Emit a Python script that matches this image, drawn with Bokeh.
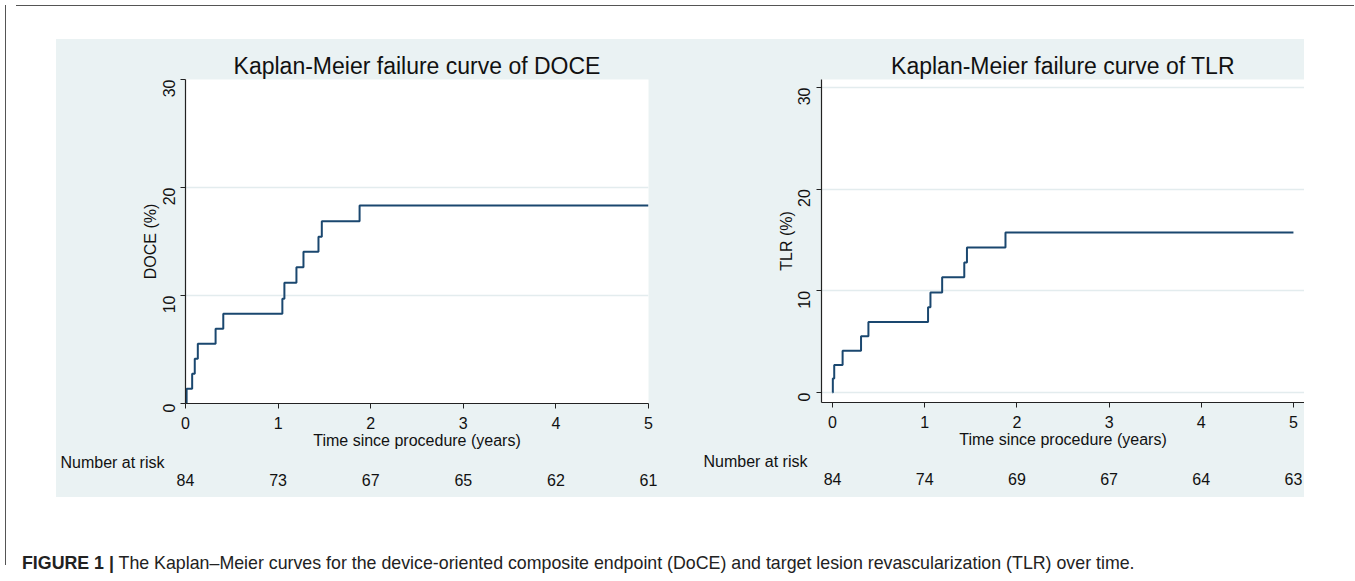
import math
from bokeh.plotting import figure
from bokeh.models import Div, Spacer, Range1d, FixedTicker
from bokeh.layouts import row, column
from bokeh.embed import file_html
from bokeh.resources import INLINE

# ---------------- data ----------------
risk_times = [0, 1, 2, 3, 4, 5]
x_ticks = [0, 1, 2, 3, 4, 5]
y_ticks = [0, 10, 20, 30]

doce_time = [0.0, 0.012, 0.072, 0.100, 0.133, 0.325, 0.408, 1.046, 1.068, 1.198, 1.274, 1.436, 1.472, 1.880, 5.0]
doce_fail = [0.0, 1.36, 2.75, 4.14, 5.53, 6.92, 8.31, 9.70, 11.17, 12.62, 14.04, 15.43, 16.88, 18.33, 18.33]
doce_risk = [84, 73, 67, 65, 62, 61]

tlr_time = [0.0, 0.003, 0.018, 0.109, 0.309, 0.389, 1.036, 1.062, 1.189, 1.429, 1.458, 1.876, 5.0]
tlr_fail = [0.0, 1.38, 2.70, 4.12, 5.53, 6.95, 8.40, 9.85, 11.33, 12.78, 14.26, 15.74, 15.74]
tlr_risk = [84, 74, 69, 67, 64, 63]

title_left = "Kaplan-Meier failure curve of DOCE"
title_right = "Kaplan-Meier failure curve of TLR"
ylabel_left = "DOCE (%)"
ylabel_right = "TLR (%)"
xlabel = "Time since procedure (years)"
risk_label = "Number at risk"
caption_bold = "FIGURE 1"
caption_text = ("The Kaplan\u2013Meier curves for the device-oriented composite endpoint (DoCE) "
                "and target lesion revascularization (TLR) over time.")

# ---------------- style ----------------
BG = "#EAF2F3"
GRID = "#E3ECEE"
NAVY = "#1A476F"
FONT = "Liberation Sans"
TXT = "#111111"


def style_axis(ax):
    ax.major_label_text_font = FONT
    ax.major_label_text_font_size = "16px"
    ax.major_label_text_color = TXT
    ax.axis_label_text_font = FONT
    ax.axis_label_text_font_size = "16px"
    ax.axis_label_text_font_style = "normal"
    ax.axis_label_text_color = TXT
    ax.minor_tick_line_color = None


def make_panel(title, ylabel, t, f, xr, yr, fw, fh, mbl, mbr, mbt, mbb):
    p = figure(x_range=Range1d(*xr), y_range=Range1d(*yr),
               frame_width=fw, frame_height=fh,
               min_border_left=mbl, min_border_right=mbr,
               min_border_top=mbt, min_border_bottom=mbb,
               output_backend="svg", toolbar_location=None)
    p.background_fill_color = "white"
    p.border_fill_color = BG
    p.outline_line_color = None

    p.title.text = title
    p.title.align = "center"
    p.title.text_font = FONT
    p.title.text_font_size = "23px"
    p.title.text_font_style = "normal"
    p.title.text_color = TXT
    p.title.standoff = 2

    p.xgrid.visible = False
    p.ygrid.ticker = FixedTicker(ticks=y_ticks)
    p.ygrid.grid_line_color = GRID
    p.ygrid.grid_line_width = 1.5

    for ax in (p.xaxis[0], p.yaxis[0]):
        style_axis(ax)
        ax.axis_line_color = "#222222"
        ax.axis_line_width = 1.2
        ax.major_tick_line_color = "#222222"
        ax.major_tick_in = 0
        ax.major_tick_out = 5

    p.xaxis.ticker = FixedTicker(ticks=x_ticks)
    p.yaxis.ticker = FixedTicker(ticks=y_ticks)
    p.yaxis.major_label_orientation = math.pi / 2
    p.xaxis.axis_label = xlabel
    p.yaxis.axis_label = ylabel
    p.xaxis.major_label_standoff = 8
    p.xaxis.axis_label_standoff = 0
    p.yaxis.major_label_standoff = 12
    p.yaxis.axis_label_standoff = -5

    p.step(t, f, mode="after", line_color=NAVY, line_width=2)
    return p


def make_risk(risk, xr, fw, mbl, mbr, label_standoff):
    # number-at-risk strip: frame aligned with the panel above it
    r = figure(x_range=Range1d(*xr), y_range=Range1d(0, 18),
               frame_width=fw, frame_height=18,
               min_border_left=mbl, min_border_right=mbr,
               min_border_top=0, min_border_bottom=28,
               output_backend="svg", toolbar_location=None)
    r.background_fill_color = BG
    r.border_fill_color = BG
    r.outline_line_color = None
    r.grid.visible = False
    for ax in (r.xaxis[0], r.yaxis[0]):
        style_axis(ax)
        ax.axis_line_color = None
        ax.major_tick_line_color = None
        ax.major_tick_in = 0
        ax.major_tick_out = 0
    r.xaxis.ticker = FixedTicker(ticks=risk_times)
    r.xaxis.major_label_overrides = {tx: str(n) for tx, n in zip(risk_times, risk)}
    r.xaxis.major_label_standoff = 4
    r.yaxis.ticker = FixedTicker(ticks=[7])
    r.yaxis.major_label_overrides = {7: risk_label}
    r.yaxis.major_label_standoff = label_standoff
    return r


L = dict(xr=(0, 5), yr=(0, 30), fw=463, fh=324, mbl=129, mbr=31, mbt=40, mbb=47)
R = dict(xr=(-0.12, 5.12), yr=(-0.98, 30.79), fw=483, fh=323, mbl=142, mbr=0, mbt=40, mbb=48)

p1 = make_panel(title_left, ylabel_left, doce_time, doce_fail, **L)
p2 = make_panel(title_right, ylabel_right, tlr_time, tlr_fail, **R)
r1 = make_risk(doce_risk, L["xr"], L["fw"], L["mbl"], L["mbr"], 21)
r2 = make_risk(tlr_risk, R["xr"], R["fw"], R["mbl"], R["mbr"], 14)

vline = Div(text="", width=1, height=560, styles={"background-color": "#555555"})
hline = Div(text="", width=1338, height=1, styles={"background-color": "#555555"})
caption = Div(
    text=('<div style="padding-left:6px;white-space:nowrap;font-family:\'Liberation Sans\';'
          'font-size:17.8px;color:#222222;line-height:20px;">'
          '<b>' + caption_bold + ' |</b> ' + caption_text + '</div>'),
    width=1330, height=20)

panels = row(column(p1, r1), column(p2, r2), styles={"background-color": BG})
inner = column(hline, Spacer(width=10, height=28),
               row(Spacer(width=45, height=457), panels),
               Spacer(width=10, height=51), caption)
layout = row(vline, inner)

with open("out.html", "w") as fh:
    fh.write(file_html(layout, INLINE))
